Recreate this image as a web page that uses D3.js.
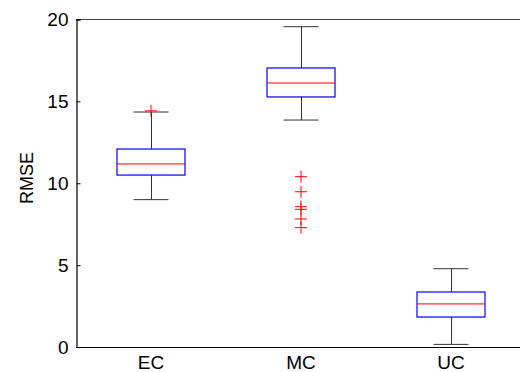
<!DOCTYPE html>
<html>
<head>
<meta charset="utf-8">
<script src="https://cdn.jsdelivr.net/npm/d3@7"></script>
<style>
  body { margin: 0; background: #fff; }
  text { font-family: "Liberation Sans", Arial, sans-serif; fill: #000; }
</style>
</head>
<body>
<svg id="chart" width="520" height="372"></svg>
<script>
// box stats
var categories = ["EC", "MC", "UC"];
var q1 = [10.5, 15.27, 1.83];
var medians = [11.18, 16.12, 2.63];
var q3 = [12.09, 17.04, 3.36];
var whiskLow = [9.0, 13.86, 0.16];
var whiskHigh = [14.35, 19.56, 4.78];
var outliers = [[14.42], [10.4, 9.48, 8.57, 8.41, 7.82, 7.29], []];
var yTicks = [0, 5, 10, 15, 20];

var svg = d3.select("#chart");
var plotL = 76, plotR = 526, plotT = 19.5, plotB = 347;

var x = d3.scaleLinear().domain([0.5, 3.5]).range([plotL, plotR]);
var y = d3.scaleLinear().domain([0, 20]).range([plotB, plotT]);

var boxW = 68, capW = 35;

// axes frame (right side falls off the canvas)
svg.append("line").attr("x1", plotL).attr("x2", plotR).attr("y1", plotT).attr("y2", plotT)
    .attr("stroke", "#444").attr("stroke-width", 1);
svg.append("line").attr("x1", plotL).attr("x2", plotR).attr("y1", plotB + 0.5).attr("y2", plotB + 0.5)
    .attr("stroke", "#000").attr("stroke-width", 1.2);

var yAxis = d3.axisLeft(y).tickValues(yTicks).tickSize(-4).tickPadding(8);
var gy = svg.append("g").attr("transform", "translate(" + (plotL + 0.5) + ",0)").call(yAxis);
gy.select(".domain").attr("stroke", "#000").attr("stroke-width", 1.2);
gy.selectAll(".tick line").attr("stroke", "#000");
gy.selectAll(".tick text").style("font-size", "19px").style("font-family", "Liberation Sans, Arial, sans-serif");

svg.append("text")
    .attr("transform", "translate(33,178) rotate(-90)")
    .attr("text-anchor", "middle")
    .style("font-size", "18px")
    .text("RMSE");

// category labels
svg.selectAll(".cat").data(categories).enter().append("text")
    .attr("class", "cat")
    .attr("x", (d, i) => x(i + 1))
    .attr("y", 369)
    .attr("text-anchor", "middle")
    .style("font-size", "19px")
    .text(d => d);

var g = svg.selectAll(".box").data(categories).enter().append("g").attr("class", "box");

// whiskers
g.append("line")
    .attr("x1", (d, i) => Math.round(x(i + 1)) + 0.5).attr("x2", (d, i) => Math.round(x(i + 1)) + 0.5)
    .attr("y1", (d, i) => y(whiskHigh[i])).attr("y2", (d, i) => y(q3[i]))
    .attr("stroke", "#333").attr("stroke-width", 1);
g.append("line")
    .attr("x1", (d, i) => Math.round(x(i + 1)) + 0.5).attr("x2", (d, i) => Math.round(x(i + 1)) + 0.5)
    .attr("y1", (d, i) => y(q1[i])).attr("y2", (d, i) => y(whiskLow[i]))
    .attr("stroke", "#333").attr("stroke-width", 1);
[whiskHigh, whiskLow].forEach(arr => {
    g.append("line")
        .attr("x1", (d, i) => x(i + 1) - capW / 2).attr("x2", (d, i) => x(i + 1) + capW / 2)
        .attr("y1", (d, i) => y(arr[i])).attr("y2", (d, i) => y(arr[i]))
        .attr("stroke", "#333").attr("stroke-width", 1);
});

// boxes
g.append("rect")
    .attr("x", (d, i) => x(i + 1) - boxW / 2)
    .attr("y", (d, i) => y(q3[i]))
    .attr("width", boxW)
    .attr("height", (d, i) => y(q1[i]) - y(q3[i]))
    .attr("fill", "none").attr("stroke", "#0000ff").attr("stroke-width", 1.2);

// medians
g.append("line")
    .attr("x1", (d, i) => x(i + 1) - boxW / 2).attr("x2", (d, i) => x(i + 1) + boxW / 2)
    .attr("y1", (d, i) => y(medians[i])).attr("y2", (d, i) => y(medians[i]))
    .attr("stroke", "#ff0000").attr("stroke-width", 1);

// outliers as red plus marks
var pts = [];
outliers.forEach((arr, i) => arr.forEach(v => pts.push({ i: i, v: v })));
var m = 6;
var p = svg.selectAll(".out").data(pts).enter().append("g").attr("class", "out")
    .attr("transform", d => "translate(" + x(d.i + 1) + "," + y(d.v) + ")");
p.append("line").attr("x1", -m).attr("x2", m).attr("y1", 0).attr("y2", 0)
    .attr("stroke", "#ff0000").attr("stroke-width", 1);
p.append("line").attr("x1", 0).attr("x2", 0).attr("y1", -m).attr("y2", m)
    .attr("stroke", "#ff0000").attr("stroke-width", 1);
</script>
</body>
</html>
